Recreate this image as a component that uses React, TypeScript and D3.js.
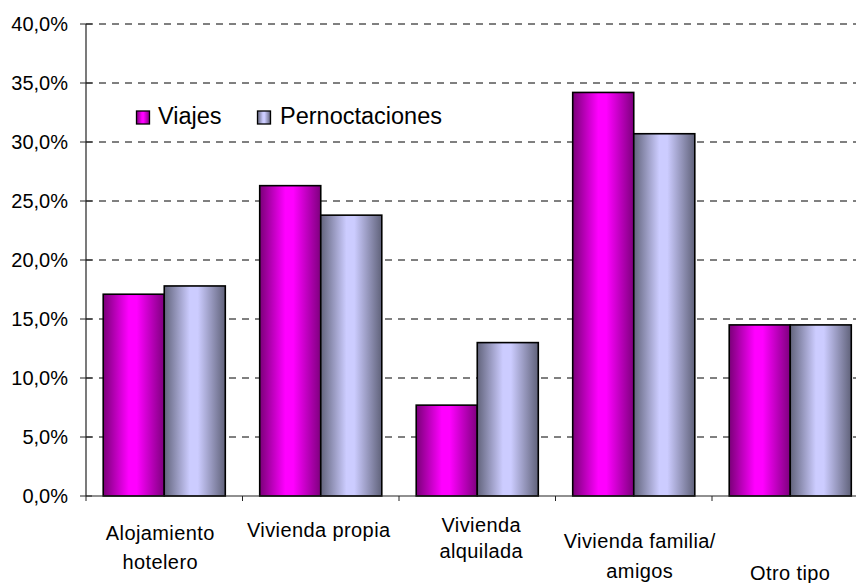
import React from "react";
import * as d3 from "d3";

const categories = ["Alojamiento hotelero", "Vivienda propia", "Vivienda alquilada", "Vivienda familia/ amigos", "Otro tipo"];
const categoryLines = [["Alojamiento", "hotelero"], ["Vivienda propia"], ["Vivienda", "alquilada"], ["Vivienda familia/", "amigos"], ["Otro tipo"]];
const seriesNames = ["Viajes", "Pernoctaciones"];
const viajes = [17.1, 26.3, 7.7, 34.2, 14.5];
const pernoctaciones = [17.8, 23.8, 13.0, 30.7, 14.5];
const yTicks = [0, 5, 10, 15, 20, 25, 30, 35, 40];

// label layout (pixels), not data
const labelLayout = [
  { dx: -4, y: 540, gap: 29 },
  { dx: -2, y: 537, gap: 28 },
  { dx: 4, y: 532, gap: 26 },
  { dx: 6, y: 548, gap: 30 },
  { dx: 0, y: 580, gap: 28 },
];

const W = 856, H = 583;
const left = 86, right = 868.5, top = 24, bottom = 496;
const font = "'Liberation Sans', Arial, sans-serif";

export default function App() {
  const x = d3.scaleBand<string>().domain(categories).range([left, right]).padding(0);
  const xs = d3.scaleBand<string>().domain(seriesNames).range([0, x.bandwidth()]).paddingInner(0).paddingOuter(0.282);
  const y = d3.scaleLinear().domain([0, 40]).range([bottom, top]);
  const fmt = (v: number) => v.toFixed(1).replace(".", ",") + "%";
  const series = [
    { name: seriesNames[0], values: viajes, fill: "url(#gMag)" },
    { name: seriesNames[1], values: pernoctaciones, fill: "url(#gLav)" },
  ];
  const boundaries = categories.map((c) => x(c) as number).concat([right]);

  return (
    <svg width={W} height={H} style={{ position: "absolute", left: 0, top: 0, background: "#fff" }} fontFamily={font}>
      <defs>
        <linearGradient id="gMag" x1="0" x2="1" y1="0" y2="0">
          <stop offset="0" stopColor="#7a0078" />
          <stop offset="0.42" stopColor="#ff00ff" />
          <stop offset="0.55" stopColor="#ff00ff" />
          <stop offset="1" stopColor="#7e007e" />
        </linearGradient>
        <linearGradient id="gLav" x1="0" x2="1" y1="0" y2="0">
          <stop offset="0" stopColor="#62647c" />
          <stop offset="0.42" stopColor="#ccccff" />
          <stop offset="0.55" stopColor="#ccccff" />
          <stop offset="1" stopColor="#60627a" />
        </linearGradient>
      </defs>
      <rect x={0} y={0} width={W} height={H} fill="#fff" />
      {yTicks.filter((t) => t > 0).map((t) => (
        <line key={"g" + t} x1={left} x2={W} y1={y(t)} y2={y(t)} stroke="#000" strokeWidth={1} strokeDasharray="7,6" />
      ))}
      {series.map((s) =>
        categories.map((c, i) => {
          const bx = (x(c) as number) + (xs(s.name) as number);
          return (
            <rect key={s.name + c} x={bx} y={y(s.values[i])} width={xs.bandwidth()} height={bottom - y(s.values[i])}
              fill={s.fill} stroke="#000" strokeWidth={1.6} />
          );
        })
      )}
      <line x1={left} x2={left} y1={top} y2={bottom} stroke="#222" strokeWidth={1.2} />
      <line x1={left} x2={right} y1={bottom} y2={bottom} stroke="#222" strokeWidth={1.2} />
      {yTicks.map((t) => (
        <g key={"t" + t}>
          <line x1={80} x2={92} y1={y(t)} y2={y(t)} stroke="#222" strokeWidth={1} />
          <text x={68} y={y(t)} dy="0.35em" textAnchor="end" fontSize={20} fill="#000">{fmt(t)}</text>
        </g>
      ))}
      {boundaries.map((b, i) => (
        <line key={"xt" + i} x1={b} x2={b} y1={bottom} y2={bottom + 5} stroke="#222" strokeWidth={1} />
      ))}
      {categories.map((c, i) => {
        const cx = (x(c) as number) + x.bandwidth() / 2 + labelLayout[i].dx;
        return (
          <text key={"l" + c} x={cx} textAnchor="middle" fontSize={20} letterSpacing={0.4} fill="#000">
            {categoryLines[i].map((ln, j) => (
              <tspan key={j} x={cx} y={labelLayout[i].y + j * labelLayout[i].gap}>{ln}</tspan>
            ))}
          </text>
        );
      })}
      <g>
        <rect x={136.5} y={111} width={13} height={13} fill="url(#gMag)" stroke="#000" strokeWidth={1.3} />
        <text x={158} y={124} fontSize={23.5} fill="#000">{seriesNames[0]}</text>
        <rect x={257.5} y={111} width={13} height={13} fill="url(#gLav)" stroke="#000" strokeWidth={1.3} />
        <text x={280} y={124} fontSize={23.5} fill="#000">{seriesNames[1]}</text>
      </g>
    </svg>
  );
}
